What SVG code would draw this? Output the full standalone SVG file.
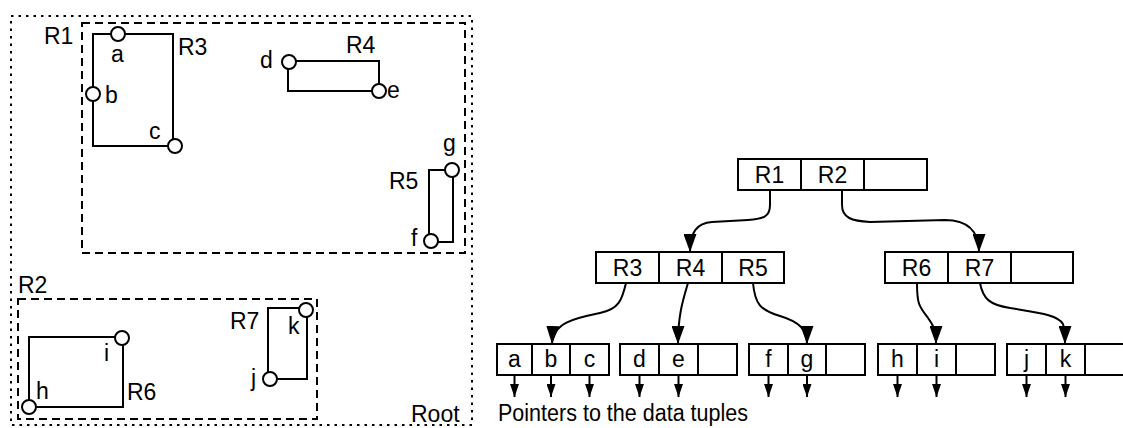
<svg xmlns="http://www.w3.org/2000/svg" width="1123" height="428" viewBox="0 0 1123 428">
<style>
text{font-family:"Liberation Sans",Arial,Helvetica,sans-serif;font-size:23px;fill:#000}
.c{text-anchor:middle}
.box{fill:#fff;stroke:#000;stroke-width:2}
.ln{fill:none;stroke:#000;stroke-width:2}
.pt{fill:#fff;stroke:#000;stroke-width:2}
.dot{fill:none;stroke:#000;stroke-width:2;stroke-dasharray:2.5 5}
.dash{fill:none;stroke:#000;stroke-width:2;stroke-dasharray:8 5}
.cn{fill:none;stroke:#000;stroke-width:2}
</style>
<defs>
<marker id="big" markerUnits="userSpaceOnUse" markerWidth="18" markerHeight="13" refX="18" refY="6.5" orient="auto" viewBox="0 0 18 13">
<path d="M0,0 L18,6.5 L0,13 z" fill="#000"/>
</marker>
<marker id="small" markerUnits="userSpaceOnUse" markerWidth="13" markerHeight="9" refX="13" refY="4.5" orient="auto" viewBox="0 0 13 9">
<path d="M0,0 L13,4.5 L0,9 z" fill="#000"/>
</marker>
</defs>
<rect width="1123" height="428" fill="#fff"/>

<g id="plan">
<rect id="Root" class="dot" x="11" y="16" width="461" height="409"/>
<text x="411" y="422">Root</text>
<rect id="R1" class="dash" x="82" y="23" width="383" height="230"/>
<text x="44" y="44">R1</text>
<rect id="R2" class="dash" x="18" y="299" width="299" height="120"/>
<text x="18" y="293">R2</text>

<g id="R3-rect">
<rect class="ln" x="93" y="34" width="80" height="112"/>
<circle class="pt" cx="118" cy="34" r="7"/>
<circle class="pt" cx="93" cy="94" r="7"/>
<circle class="pt" cx="175" cy="146" r="7"/>
<text x="178" y="55">R3</text>
<text x="111" y="62">a</text>
<text x="105" y="103">b</text>
<text x="149" y="139">c</text>
</g>
<g id="R4-rect">
<rect class="ln" x="288" y="61" width="91" height="30"/>
<circle class="pt" cx="289" cy="62" r="7"/>
<circle class="pt" cx="379" cy="91" r="7"/>
<text x="346" y="53">R4</text>
<text x="260" y="68">d</text>
<text x="387" y="98">e</text>
</g>
<g id="R5-rect">
<rect class="ln" x="429" y="170" width="24" height="72"/>
<circle class="pt" cx="452" cy="170" r="7"/>
<circle class="pt" cx="431" cy="241" r="7"/>
<text x="389" y="189">R5</text>
<text x="443" y="151">g</text>
<text x="411" y="246">f</text>
</g>
<g id="R6-rect">
<rect class="ln" x="29" y="337" width="94" height="70"/>
<circle class="pt" cx="122" cy="338" r="7"/>
<circle class="pt" cx="29" cy="407" r="7"/>
<text x="127" y="400">R6</text>
<text x="104" y="361">i</text>
<text x="36" y="399">h</text>
</g>
<g id="R7-rect">
<rect class="ln" x="268" y="308" width="39" height="71"/>
<circle class="pt" cx="306" cy="310" r="7"/>
<circle class="pt" cx="270" cy="379" r="7"/>
<text x="230" y="329">R7</text>
<text x="288" y="334">k</text>
<text x="251" y="386">j</text>
</g>
</g>

<g id="node-root">
<rect class="box" x="738" y="159" width="63" height="31"/>
<rect class="box" x="801" y="159" width="63" height="31"/>
<rect class="box" x="864" y="159" width="63" height="31"/>
<text class="c" x="769.5" y="183">R1</text>
<text class="c" x="832.5" y="183">R2</text>
</g>
<g id="node-R1">
<rect class="box" x="596" y="252" width="63" height="31"/>
<rect class="box" x="659" y="252" width="63" height="31"/>
<rect class="box" x="722" y="252" width="62" height="31"/>
<text class="c" x="627.5" y="276">R3</text>
<text class="c" x="690.5" y="276">R4</text>
<text class="c" x="753" y="276">R5</text>
</g>
<g id="node-R2">
<rect class="box" x="885" y="252" width="63" height="31"/>
<rect class="box" x="948" y="252" width="63" height="31"/>
<rect class="box" x="1011" y="252" width="62" height="31"/>
<text class="c" x="916.5" y="276">R6</text>
<text class="c" x="979.5" y="276">R7</text>
</g>
<g id="leaf-R3">
<rect class="box" x="497" y="344" width="35" height="31"/>
<rect class="box" x="532" y="344" width="38" height="31"/>
<rect class="box" x="570" y="344" width="39" height="31"/>
<text class="c" x="514.5" y="367">a</text>
<text class="c" x="551" y="367">b</text>
<text class="c" x="589.5" y="367">c</text>
</g>
<g id="leaf-R4">
<rect class="box" x="620" y="344" width="39" height="31"/>
<rect class="box" x="659" y="344" width="39" height="31"/>
<rect class="box" x="698" y="344" width="39" height="31"/>
<text class="c" x="639.5" y="367">d</text>
<text class="c" x="678.5" y="367">e</text>
</g>
<g id="leaf-R5">
<rect class="box" x="749" y="344" width="39" height="31"/>
<rect class="box" x="788" y="344" width="38" height="31"/>
<rect class="box" x="826" y="344" width="39" height="31"/>
<text class="c" x="768.5" y="367">f</text>
<text class="c" x="807" y="367">g</text>
</g>
<g id="leaf-R6">
<rect class="box" x="878" y="344" width="39" height="31"/>
<rect class="box" x="917" y="344" width="39" height="31"/>
<rect class="box" x="956" y="344" width="39" height="31"/>
<text class="c" x="897.5" y="367">h</text>
<text class="c" x="936.5" y="367">i</text>
</g>
<g id="leaf-R7">
<rect class="box" x="1007" y="344" width="39" height="31"/>
<rect class="box" x="1046" y="344" width="39" height="31"/>
<rect class="box" x="1085" y="344" width="39" height="31"/>
<text class="c" x="1026.5" y="367">j</text>
<text class="c" x="1065.5" y="367">k</text>
</g>
<text id="caption" x="498" y="421" textLength="250" lengthAdjust="spacingAndGlyphs">Pointers to the data tuples</text>

<g id="connectors">
<path class="cn" marker-end="url(#big)" d="M770,190 L770,205 C770,217 763,219 748,220 L712,222 C697,223 690,232 690,252"/>
<path class="cn" marker-end="url(#big)" d="M842,190 L842,205 C842,218 852,221 870,222 L945,220 C966,220 979,230 979,252"/>
<path class="cn" marker-end="url(#big)" d="M626,283 C622,300 619,309 600,313 C576,318 553,322 552,344"/>
<path class="cn" marker-end="url(#big)" d="M688,283 C683,300 678,315 678,344"/>
<path class="cn" marker-end="url(#big)" d="M753,283 C755,304 760,310 780,316 C800,322 807,330 807,344"/>
<path class="cn" marker-end="url(#big)" d="M917,283 C917,304 919,306 928,318 C934,326 936,331 936,344"/>
<path class="cn" marker-end="url(#big)" d="M980,283 C983,299 990,305 1010,308 C1040,313 1058,315 1063,324 C1065,329 1065,335 1065,344"/>
<g marker-end="url(#small)">
<path class="cn" d="M514.5,375 V397"/>
<path class="cn" d="M551,375 V397"/>
<path class="cn" d="M589.5,375 V397"/>
<path class="cn" d="M639.5,375 V397"/>
<path class="cn" d="M678.5,375 V397"/>
<path class="cn" d="M768.5,375 V397"/>
<path class="cn" d="M807,375 V397"/>
<path class="cn" d="M897.5,375 V397"/>
<path class="cn" d="M936.5,375 V397"/>
<path class="cn" d="M1026.5,375 V397"/>
<path class="cn" d="M1065.5,375 V397"/>
</g>
</g>
</svg>
